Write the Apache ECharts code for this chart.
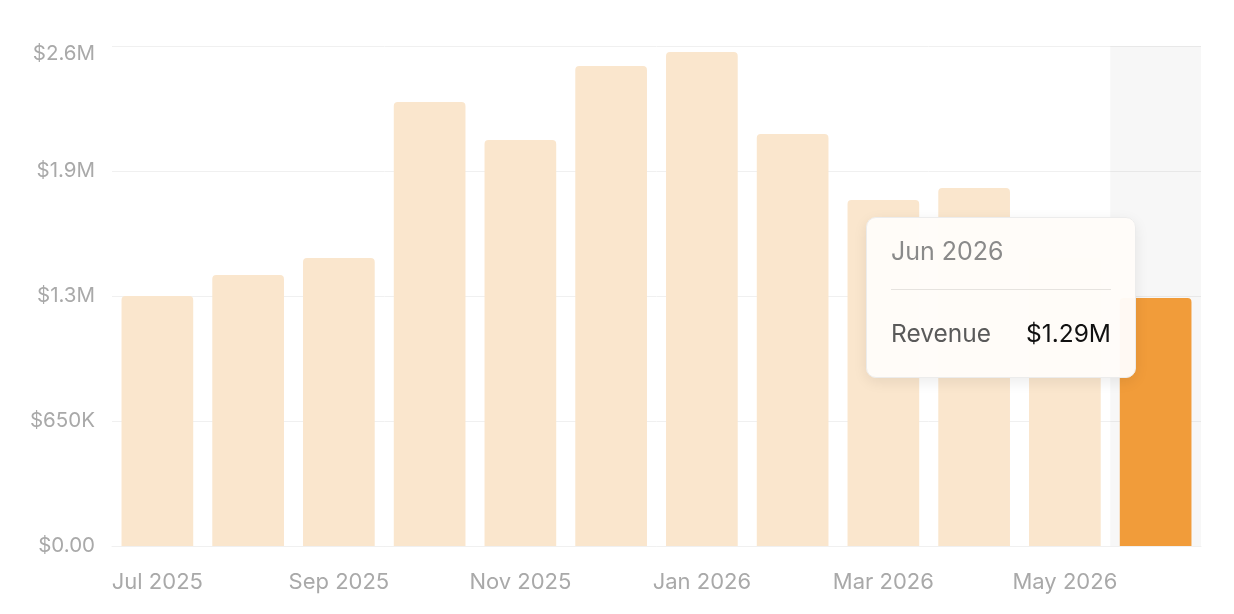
<!DOCTYPE html>
<html>
<head>
<meta charset="utf-8">
<style>
html,body{margin:0;padding:0;background:#fff;}
#chart{width:1234px;height:614px;}
</style>
<script src="https://cdn.jsdelivr.net/npm/echarts@6/dist/echarts.min.js"></script>
</head>
<body>
<div id="chart"></div>
<script>
const categories = ['Jul 2025','Aug 2025','Sep 2025','Oct 2025','Nov 2025','Dec 2025','Jan 2026','Feb 2026','Mar 2026','Apr 2026','May 2026','Jun 2026'];
const revenue = [1300000,1409000,1498000,2309000,2111000,2496000,2569000,2142000,1799000,1862000,1500000,1290000];
const yTicks = [0,650000,1300000,1950000,2600000];
const yTickLabels = ['$0.00','$650K','$1.3M','$1.9M','$2.6M'];
const activeIndex = 11;

function fmtMoney(v){
  if (v >= 1e6) return '$' + (v/1e6).toFixed(2) + 'M';
  if (v >= 1e3) return '$' + Math.round(v/1e3) + 'K';
  return '$' + v.toFixed(2);
}

const chart = echarts.init(document.getElementById('chart'), null, {renderer:'canvas'});
const font = 'Inter, "Helvetica Neue", Arial, sans-serif';
chart.setOption({
  animation:false,
  textStyle:{fontFamily:font},
  grid:{left:112,right:33,top:46,bottom:68,containLabel:false},
  tooltip:{
    trigger:'axis',
    alwaysShowContent:true,
    triggerOn:'none',
    axisPointer:{type:'shadow',z:0,shadowStyle:{color:'rgba(0,0,0,0.032)'}},
    position:function(){return [866,217];},
    backgroundColor:'rgba(255,252,249,0.97)',
    borderColor:'#ececec',
    borderWidth:1,
    padding:0,
    extraCssText:'border-radius:10px;box-shadow:0 4px 14px rgba(0,0,0,0.08);',
    formatter:function(params){
      const p = params[0];
      return '<div style="width:220px;padding:0 24px;font-family:'+font.replace(/"/g,"'")+';">'+
        '<div style="font-size:25px;line-height:28px;color:#8a8a8a;padding:19px 0 24px 0;">'+categories[p.dataIndex]+'</div>'+
        '<div style="height:1px;background:#e6e3df;"></div>'+
        '<div style="display:flex;justify-content:space-between;font-size:24.5px;line-height:28px;padding:29px 0 30px 0;">'+
        '<span style="color:#5a5a5a;">Revenue</span><span style="color:#111;">'+fmtMoney(revenue[p.dataIndex])+'</span></div>'+
        '</div>';
    }
  },
  xAxis:{
    type:'category',
    data:categories,
    axisLine:{show:true,lineStyle:{color:'#f0f0f0',width:1}},
    axisTick:{show:false},
    axisLabel:{interval:1,color:'#a9a9a9',fontSize:22,margin:25,fontFamily:font}
  },
  yAxis:{
    type:'value',
    min:0,max:2600000,interval:650000,
    axisLine:{show:false},
    axisTick:{show:false},
    splitLine:{lineStyle:{color:'#f0f0f0',width:1}},
    axisLabel:{
      color:'#a9a9a9',fontSize:20.5,margin:17,fontFamily:font,
      formatter:function(v){
        const i = yTicks.indexOf(v);
        const t = i>=0 ? yTickLabels[i] : '';
        return v===yTicks[yTicks.length-1] ? '{top|'+t+'}' : t;
      },
      rich:{top:{color:'#a9a9a9',fontSize:20.5,fontFamily:font,padding:[16,0,0,0]}}
    }
  },
  series:[{
    type:'bar',
    z:5,
    data:revenue.map((v,i)=>({value:v,itemStyle:{color:i===activeIndex?'#f19c3a':'#fae6cd'}})),
    barCategoryGap:'21%',
    itemStyle:{borderRadius:[4,4,0,0]},
    emphasis:{disabled:true}
  }]
});
chart.dispatchAction({type:'showTip',seriesIndex:0,dataIndex:activeIndex});
</script>
</body>
</html>
